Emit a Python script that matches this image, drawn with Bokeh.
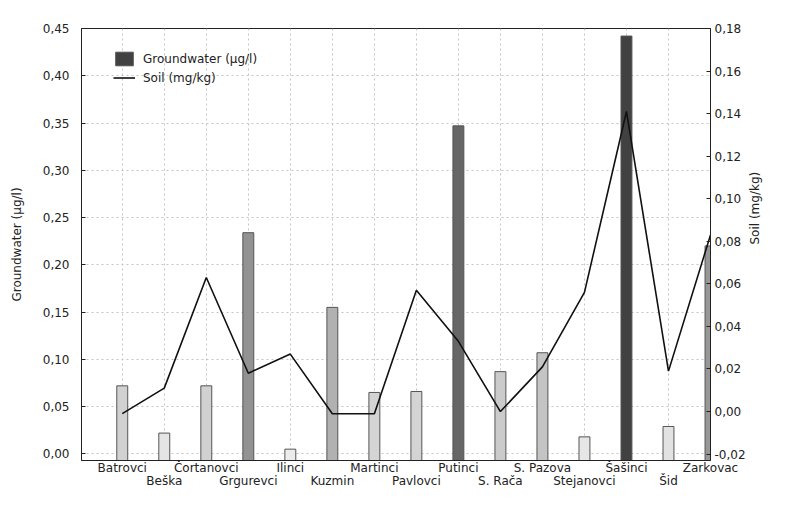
import math
from bokeh.plotting import figure
from bokeh.models import (Range1d, LinearAxis, FixedTicker, CustomJSTickFormatter,
                          ColumnDataSource, Legend, LegendItem)
from bokeh.transform import linear_cmap
from bokeh.palettes import Greys256
from bokeh.embed import file_html
from bokeh.resources import INLINE

locations = ["Batrovci", "Beška", "Čortanovci", "Grgurevci", "Ilinci", "Kuzmin",
             "Martinci", "Pavlovci", "Putinci", "S. Rača", "S. Pazova", "Stejanovci",
             "Šašinci", "Šid", "Zarkovac"]
groundwater = [0.072, 0.022, 0.072, 0.234, 0.005, 0.155, 0.065, 0.066, 0.347,
               0.087, 0.107, 0.018, 0.442, 0.029, 0.220]
soil = [-0.001, 0.011, 0.063, 0.018, 0.027, -0.001, -0.001, 0.057, 0.033,
        0.000, 0.021, 0.056, 0.141, 0.019, 0.083]
left_ticks = [0.0, 0.05, 0.10, 0.15, 0.20, 0.25, 0.30, 0.35, 0.40, 0.45]
right_ticks = [-0.02, 0.0, 0.02, 0.04, 0.06, 0.08, 0.10, 0.12, 0.14, 0.16, 0.18]

xpos = list(range(1, len(locations) + 1))
src = ColumnDataSource(dict(x=xpos, gw=groundwater, soil=soil, loc=locations))

FONT = "DejaVu Sans"

p = figure(width=771, height=490, output_backend="svg", toolbar_location=None,
           x_range=Range1d(0.03, 15), y_range=Range1d(-0.007, 0.45),
           min_border_left=81, min_border_right=59, min_border_top=28, min_border_bottom=28)
p.extra_y_ranges = {"soil": Range1d(-0.023, 0.18)}

p.outline_line_color = "#222222"
p.background_fill_color = "white"

palette = list(reversed(Greys256[62:238]))
bars = p.vbar(x="x", top="gw", bottom=-0.007, width=0.26, source=src,
              fill_color=linear_cmap("gw", palette, 0.0, 0.45),
              line_color="#555555", line_width=1)
line = p.line(x="x", y="soil", source=src, y_range_name="soil",
              line_color="#111111", line_width=1.6)

fmt = CustomJSTickFormatter(code="return tick.toFixed(2).replace('.', ',');")

# left axis
p.yaxis.ticker = FixedTicker(ticks=left_ticks)
p.yaxis.formatter = fmt
p.yaxis.axis_label = "Groundwater (µg/l)"

# right axis
ra = LinearAxis(y_range_name="soil", ticker=FixedTicker(ticks=right_ticks),
                formatter=fmt, axis_label="Soil (mg/kg)")
p.add_layout(ra, "right")

for ax in (p.yaxis[0], ra):
    ax.major_label_text_font = FONT
    ax.major_label_text_font_size = "12px"
    ax.major_label_text_color = "#222222"
    ax.axis_label_text_font = FONT
    ax.axis_label_text_font_size = "12px"
    ax.axis_label_text_font_style = "normal"
    ax.axis_label_text_color = "#222222"
    ax.major_tick_in = 4
    ax.major_tick_out = 0
    ax.minor_tick_line_color = None
    ax.axis_line_color = "#222222"
    ax.major_tick_line_color = "#222222"

p.yaxis[0].major_label_standoff = 12
p.yaxis[0].axis_label_standoff = 16
ra.major_label_standoff = 4
ra.axis_label_standoff = 6
ra.axis_label_orientation = math.pi / 2

# x axes: staggered labels
odd = {x: (loc if i % 2 == 0 else "") for i, (x, loc) in enumerate(zip(xpos, locations))}
even = {x: (loc if i % 2 == 1 else "") for i, (x, loc) in enumerate(zip(xpos, locations))}
xa = p.xaxis[0]
xa.ticker = FixedTicker(ticks=xpos)
xa.major_label_overrides = odd
xb = LinearAxis(ticker=FixedTicker(ticks=xpos), major_label_overrides=even)
p.add_layout(xb, "below")
for ax in (xa, xb):
    ax.major_label_text_font = FONT
    ax.major_label_text_font_size = "12px"
    ax.major_label_text_color = "#222222"
    ax.major_tick_line_color = None
    ax.minor_tick_line_color = None
    ax.major_tick_out = 0
    ax.major_tick_in = 0
    ax.major_label_standoff = 0
xa.axis_line_color = "#222222"
xb.axis_line_color = None
xb.major_label_standoff = -4

# grid
p.xgrid.ticker = FixedTicker(ticks=xpos)
p.ygrid.ticker = FixedTicker(ticks=left_ticks)
for g in (p.xgrid[0], p.ygrid[0]):
    g.grid_line_color = "#c4c4c4"
    g.grid_line_dash = "2 3"
    g.grid_line_width = 1

legend = Legend(items=[LegendItem(label="Groundwater (µg/l)", renderers=[bars], index=12),
                       LegendItem(label="Soil (mg/kg)", renderers=[line])],
                location=(32, 374), margin=0, padding=0, spacing=2,
                glyph_width=22, glyph_height=17, label_standoff=8,
                background_fill_alpha=0, border_line_color=None,
                label_text_font=FONT, label_text_font_size="12px",
                label_text_color="#222222")
p.add_layout(legend)

open("out.html", "w").write(file_html(p, INLINE))
